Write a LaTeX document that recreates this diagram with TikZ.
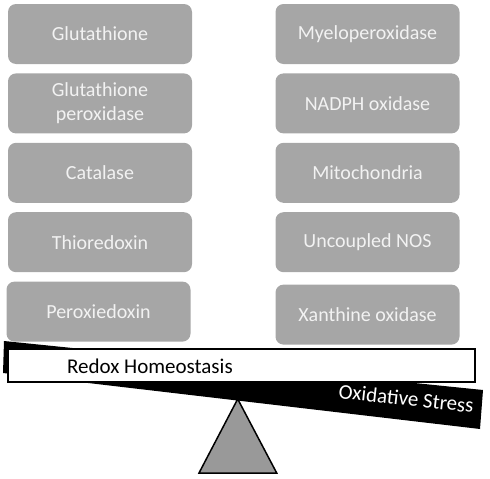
\documentclass[tikz,border=0pt]{standalone}
\usepackage{fontspec}
\setmainfont{Carlito}
\usepackage{tikz}
\usetikzlibrary{positioning}
\definecolor{boxgray}{RGB}{166,166,166}
\definecolor{boxtext}{RGB}{242,242,242}
\definecolor{pivotgray}{RGB}{153,153,153}

\begin{document}
\begin{tikzpicture}[
  x=1pt, y=1pt,
  node distance=9pt,
  agent/.style={rectangle, rounded corners=8pt, fill=boxgray, text=boxtext,
                minimum width=184pt, minimum height=60pt, inner sep=2pt,
                align=center, font=\fontsize{20}{24}\selectfont},
  label/.style={inner sep=0pt, font=\fontsize{21}{25}\selectfont}
]
\useasboundingbox (0,0) rectangle (490,-479);

% Antioxidants
\node[agent] (gsh) at (100,-34) {Glutathione};
\node[agent, below=of gsh] (gpx) {Glutathione\\peroxidase};
\node[agent, below=of gpx] (cat) {Catalase};
\node[agent, below=of cat] (trx) {Thioredoxin};
\node[agent, below=of trx, xshift=-1.5pt] (prx) {Peroxiedoxin};

% Oxidant sources
\node[agent] (mpo) at (367.5,-34) {Myeloperoxidase};
\node[agent, below=of mpo] (nox) {NADPH oxidase};
\node[agent, below=of nox] (mito) {Mitochondria};
\node[agent, below=of mito] (nos) {Uncoupled NOS};
\node[agent, below=of nos, yshift=-3pt] (xo) {Xanthine oxidase};

% Tilted beam
\fill[black] (4,-341) -- (483,-390) -- (480,-429) -- (3,-373) -- cycle;
\node[label, text=white, anchor=base west, rotate=-6.3] (stress) at (338,-398)
  {Oxidative Stress};

% Level beam
\draw[line width=1.5pt, fill=white] (8,-349) rectangle (475,-382);
\node[label, anchor=base west] (redox) at (67,-373) {Redox Homeostasis};

% Pivot
\draw[line width=1.5pt, fill=pivotgray, line join=miter]
  (237.7,-399) -- (276.7,-473) -- (199,-473) -- cycle;

\end{tikzpicture}
\end{document}
